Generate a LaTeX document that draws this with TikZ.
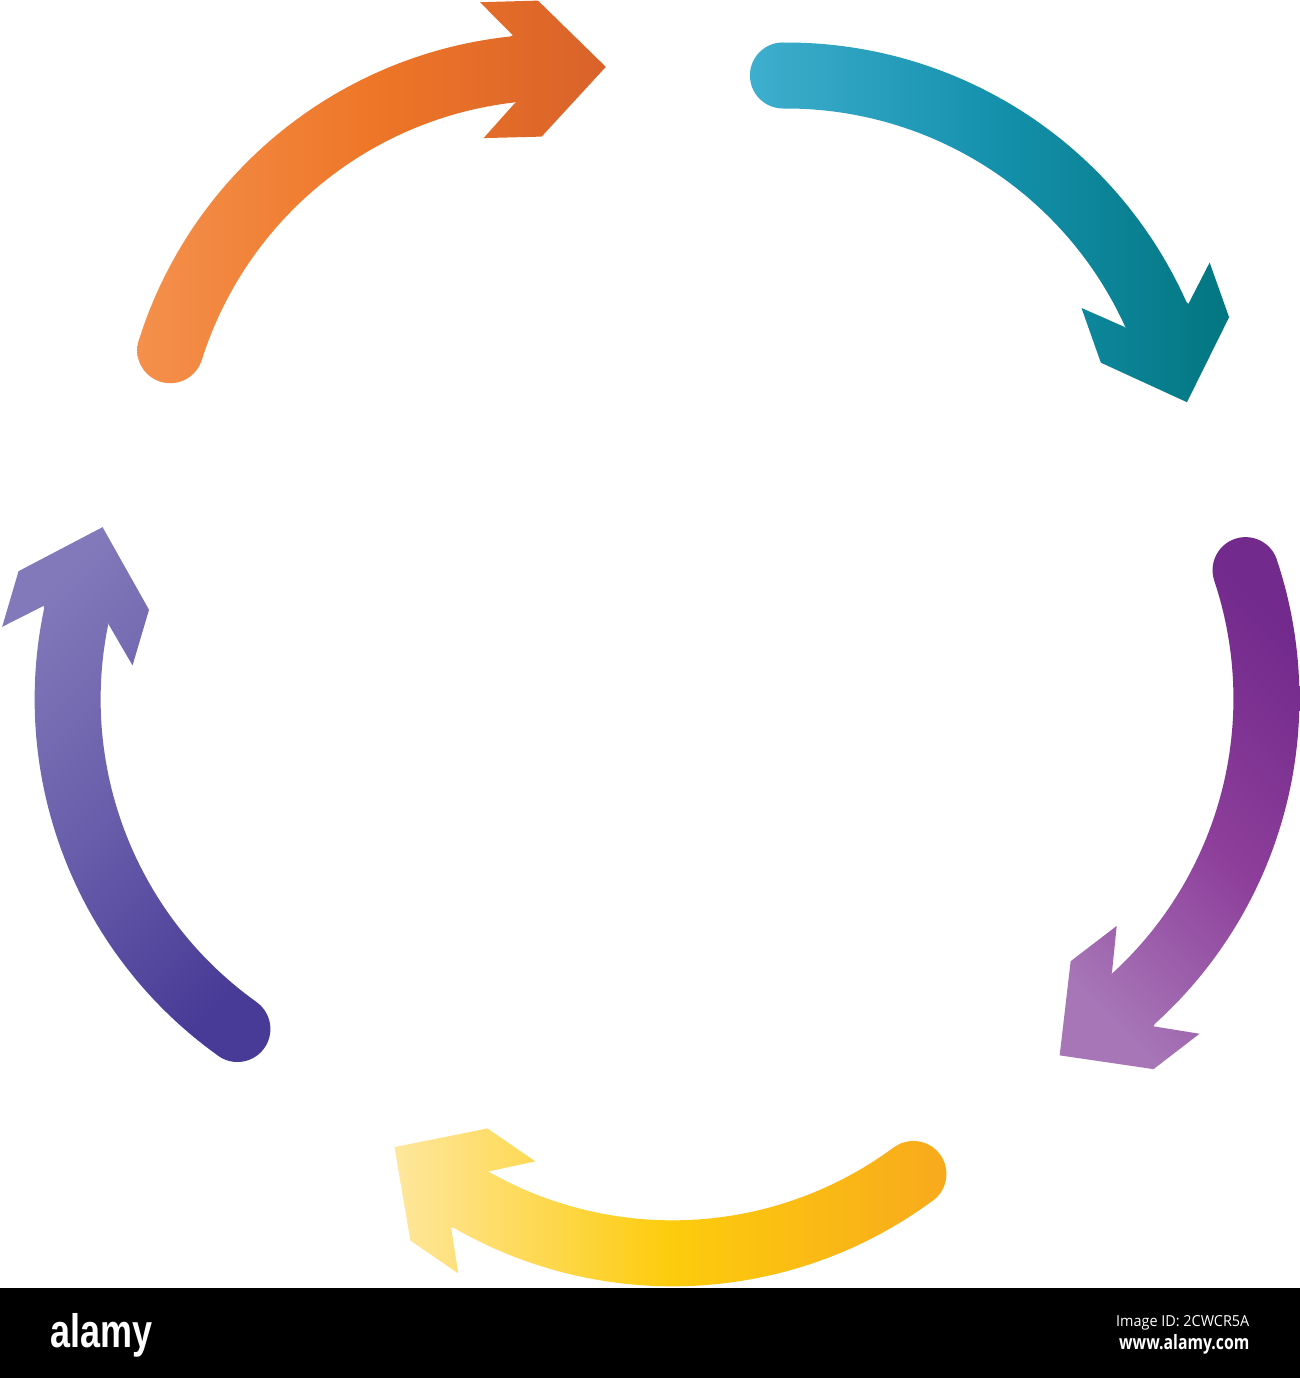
\documentclass[tikz,border=0pt]{standalone}
\usepackage{fontspec}
\setmainfont{Open Sans}
\newfontfamily\logofont{Liberation Sans}
\usepackage{graphicx}
\definecolor{orA}{HTML}{F4914D}
\definecolor{orB}{HTML}{EE7628}
\definecolor{orC}{HTML}{D8622A}
\definecolor{tlA}{HTML}{3FAFCE}
\definecolor{tlB}{HTML}{1591AD}
\definecolor{tlC}{HTML}{02757F}
\definecolor{puA}{HTML}{A776B7}
\definecolor{puB}{HTML}{8D3E9A}
\definecolor{puC}{HTML}{722A8C}
\definecolor{yeA}{HTML}{FEE7A0}
\definecolor{yeB}{HTML}{FDCC0C}
\definecolor{yeC}{HTML}{F8A91D}
\definecolor{blA}{HTML}{8279BA}
\definecolor{blB}{HTML}{675DAA}
\definecolor{blC}{HTML}{483B97}
\tikzset{
  arrowshape/.style={insert path={
    plot[domain=197.5:263.9, samples=60] ({552+438*cos(\x)}, {475+438*sin(\x)})
    -- (508.4,38.3) -- (475.5,5.2) -- (533.5,3.6) -- (601.3,69.9)
    -- (537.1,139.6) -- (479.1,141.1) -- (510.2,106.3)
    -- plot[domain=263.9:197.5, samples=60] ({552+372*cos(\x)}, {475+372*sin(\x)})
    -- plot[domain=17.5:197.5, samples=40] ({165.7+33*cos(\x)}, {353.2+33*sin(\x)})
    -- cycle}},
  bartext/.style={inner sep=0pt, text=white}
}
\begin{document}
\begin{tikzpicture}[x=0.01cm, y=-0.01cm]
\useasboundingbox (0,0) rectangle (1300,1378);
\fill[white] (0,0) rectangle (1300,1378);
\clip (0,0) rectangle (1300,1378);
% orange
\begin{scope}
  \clip[shift={(4.5,-3)}, arrowshape];
  \shade[left color=orA, right color=orC, middle color=orB, shading angle=90] (130,-10) rectangle (612,392);
\end{scope}
% teal
\begin{scope}
  \clip[shift={(-4,3.7)}, rotate around={-72:(670,640)}, arrowshape];
  \shade[left color=tlA, right color=tlC, middle color=tlB, shading angle=90] (745,35) rectangle (1237,410);
\end{scope}
% purple
\begin{scope}
  \clip[shift={(-1,-5.5)}, rotate around={-144:(670,640)}, arrowshape];
  \shade[left color=puA, right color=puC, middle color=puB, shading angle=135] (1050,530) rectangle (1300,1078);
\end{scope}
% yellow
\begin{scope}
  \clip[shift={(4,5.5)}, rotate around={-216:(670,640)}, arrowshape];
  \shade[left color=yeA, right color=yeC, middle color=yeB, shading angle=90] (390,1126) rectangle (952,1292);
\end{scope}
% blue
\begin{scope}
  \clip[shift={(-4,-2)}, rotate around={-288:(670,640)}, arrowshape];
  \shade[left color=blA, right color=blC, middle color=blB, shading angle=45] (-5,518) rectangle (276,1068);
\end{scope}
% bottom bar
\fill[black] (0,1288) rectangle (1300,1378);
\node[bartext, anchor=base west] (logo) at (50,1347) {\resizebox{1.02cm}{0.34cm}{\logofont\bfseries alamy}};
\node[bartext, anchor=base east] (imgid) at (1250,1326) {\resizebox{1.33cm}{0.11cm}{Image ID: 2CWCR5A}};
\node[bartext, anchor=base east] (www) at (1250,1349) {\resizebox{1.30cm}{0.15cm}{\bfseries www.alamy.com}};
\end{tikzpicture}
\end{document}
